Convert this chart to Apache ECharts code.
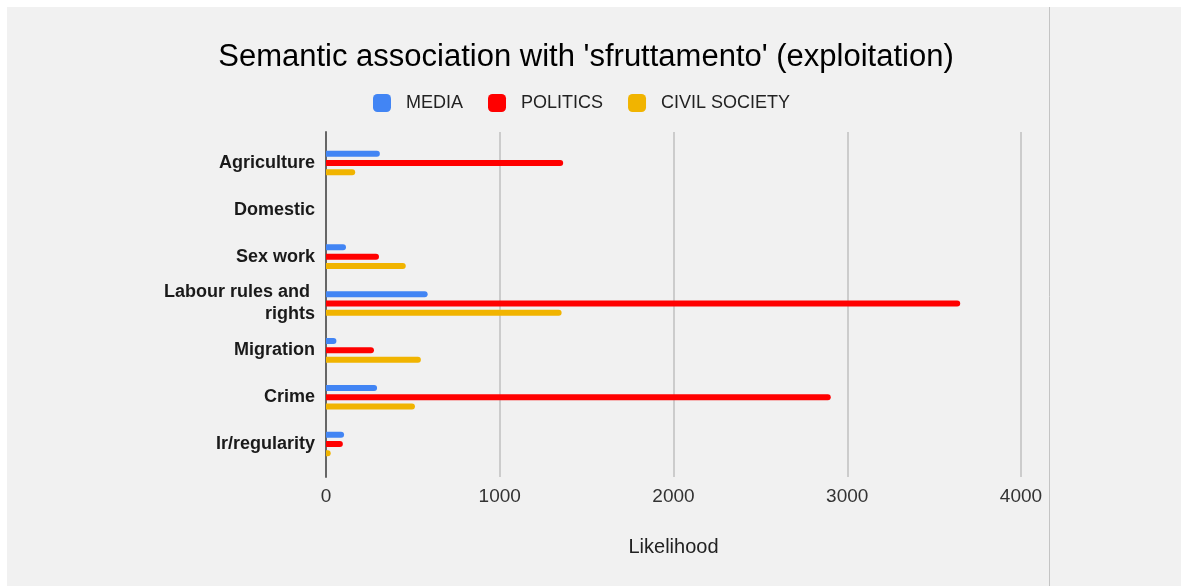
<!DOCTYPE html>
<html>
<head>
<meta charset="utf-8">
<script src="https://cdn.jsdelivr.net/npm/echarts@6/dist/echarts.min.js"></script>
<style>
html,body{margin:0;padding:0;background:#fff;overflow:hidden;}
#chart{width:1181px;height:586px;}
</style>
</head>
<body>
<div id="chart"></div>
<script>
const categories = ['Agriculture', 'Domestic', 'Sex work', 'Labour rules and rights', 'Migration', 'Crime', 'Ir/regularity'];
const seriesNames = ['MEDIA', 'POLITICS', 'CIVIL SOCIETY'];
const media = [310, 0, 115, 585, 60, 294, 104];
const politics = [1365, 0, 305, 3650, 276, 2905, 97];
const civilSociety = [168, 0, 459, 1356, 546, 512, 27];
const xTicks = [0, 1000, 2000, 3000, 4000];

const colors = ['#4285f4', '#ff0000', '#f1b400'];
const font = "'Liberation Sans', Arial, sans-serif";

const chart = echarts.init(document.getElementById('chart'));
const values = [media, politics, civilSociety];

chart.setOption({
  backgroundColor: '#f1f1f1',
  animation: false,
  textStyle: { fontFamily: font },
  graphic: [
    { type: 'rect', shape: { x: 0, y: 0, width: 1181, height: 7 }, style: { fill: '#ffffff' }, silent: true },
    { type: 'rect', shape: { x: 0, y: 0, width: 7, height: 586 }, style: { fill: '#ffffff' }, silent: true },
    { type: 'line', shape: { x1: 1049.5, y1: 7, x2: 1049.5, y2: 586 }, style: { stroke: '#c4c4c4', lineWidth: 1 }, silent: true }
  ],
  title: {
    text: "Semantic association with 'sfruttamento' (exploitation)",
    left: 581, textAlign: 'center', top: 37,
    textStyle: { fontFamily: font, fontSize: 31, fontWeight: 'normal', color: '#000' }
  },
  legend: {
    top: 89, left: 368,
    itemWidth: 18, itemHeight: 18, itemGap: 25,
    icon: 'roundRect',
    data: seriesNames,
    textStyle: { fontFamily: font, fontSize: 18, color: '#222', padding: [0, 0, 0, 10] }
  },
  grid: [
    { left: 326, right: 160, top: 139.5, height: 328 },
    { left: 326, right: 160, top: 132, height: 345 }
  ],
  xAxis: [
    { gridIndex: 0, type: 'value', min: 0, max: 4000, interval: 1000, show: false },
    {
      gridIndex: 1, type: 'value', min: xTicks[0], max: xTicks[xTicks.length - 1], interval: 1000,
      axisLine: { show: false }, axisTick: { show: false },
      axisLabel: { margin: 10, fontSize: 19, color: '#333', fontFamily: font, formatter: v => String(v) },
      splitLine: { show: true, lineStyle: { color: '#cccccc', width: 2 } },
      name: 'Likelihood', nameLocation: 'middle', nameGap: 60,
      nameTextStyle: { fontSize: 20, color: '#222', fontFamily: font }
    }
  ],
  yAxis: [
    {
      gridIndex: 0, type: 'category', data: categories, inverse: true,
      axisLine: { show: false }, axisTick: { show: false },
      axisLabel: { margin: 11, fontSize: 18, fontWeight: 'bold', color: '#1a1a1a', fontFamily: font,
        width: 156, overflow: 'break', lineHeight: 22, align: 'right' },
      splitLine: { show: false }
    },
    {
      gridIndex: 1, type: 'value', min: 0, max: 1, position: 'left',
      axisLine: { show: true, lineStyle: { color: '#666', width: 2 } },
      axisTick: { show: false }, axisLabel: { show: false }, splitLine: { show: false }
    }
  ],
  series: seriesNames.map((name, i) => ({
    name: name,
    type: 'bar',
    xAxisIndex: 0, yAxisIndex: 0,
    data: values[i],
    barWidth: 6,
    barGap: '55%',
    itemStyle: { color: colors[i], borderRadius: [0, 3, 3, 0] }
  }))
});
</script>
</body>
</html>
